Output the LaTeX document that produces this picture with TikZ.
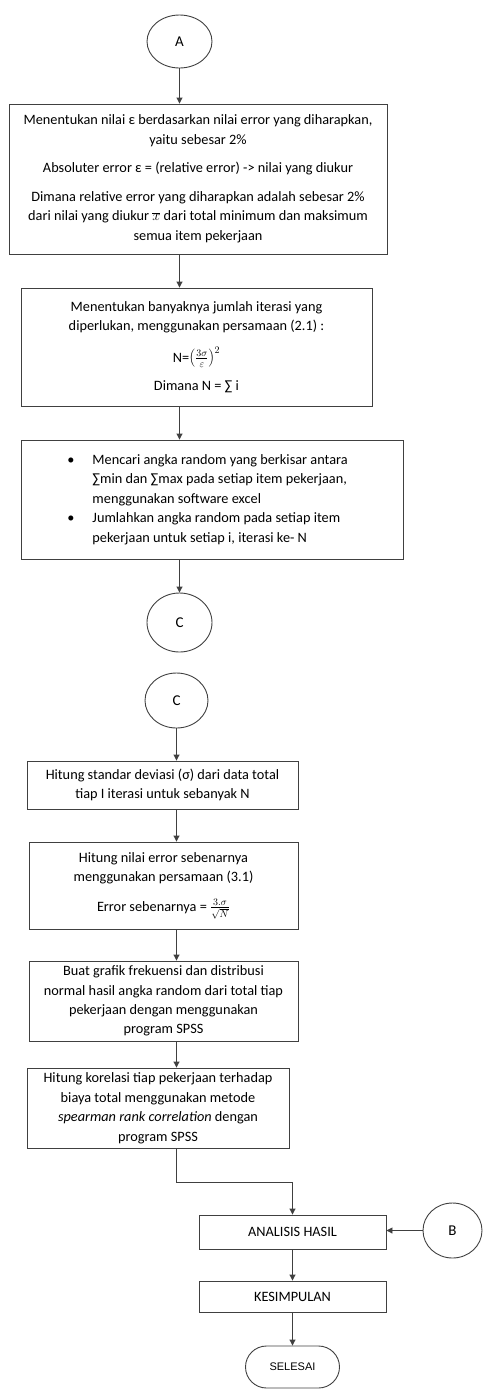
\documentclass[tikz,border=0pt]{standalone}
\usepackage{fontspec}
\setmainfont{Carlito}
\newfontfamily\arialfont{Liberation Sans}
\usetikzlibrary{arrows.meta,shapes.geometric,shapes.misc}
\definecolor{LineClr}{rgb}{0.25,0.25,0.25}

\begin{document}
\begin{tikzpicture}[x=1pt,y=-1pt,
  box/.style={draw=LineClr,line width=0.9pt,inner sep=0pt,align=center,
    font=\fontsize{14.3}{19.5}\selectfont},
  conn/.style={draw=LineClr,line width=0.9pt,ellipse,inner sep=0pt,
    font=\fontsize{15}{17}\selectfont},
  flow/.style={LineClr,line width=0.9pt,-{Triangle[length=6pt,width=6pt]}}]
\useasboundingbox (0,0) rectangle (483,1390);

\node[conn,minimum width=65pt,minimum height=53pt] (A) at (179.5,41.5) {A};

\node[box,minimum width=378pt,minimum height=150pt] (p1) at (198,179)
  {Menentukan nilai ε berdasarkan nilai error yang diharapkan,\\
   yaitu sebesar 2\%\\[9pt]
   Absoluter error ε = (relative error) -> nilai yang diukur\\[9pt]
   Dimana relative error yang diharapkan adalah sebesar 2\%\\
   dari nilai yang diukur $\overline{x}$ dari total minimum dan maksimum\\
   semua item pekerjaan};

\node[box,minimum width=351pt,minimum height=118pt] (p2) at (196.5,347)
  {Menentukan banyaknya jumlah iterasi yang\\
   diperlukan, menggunakan persamaan (2.1) :\\[12pt]
   N=$\left(\frac{3\sigma}{\varepsilon}\right)^{2}$\\[9pt]
   Dimana N = ∑ i};

\node[box,minimum width=382pt,minimum height=119pt] (p3) at (212,499.5)
  {\begin{tabular}{@{}l@{\hspace{18pt}}l@{\hspace{9pt}}}
   \textbullet & Mencari angka random yang berkisar antara\\
               & ∑min dan ∑max pada setiap item pekerjaan,\\
               & menggunakan software excel\\
   \textbullet & Jumlahkan angka random pada setiap item\\
               & pekerjaan untuk setiap i, iterasi ke- N
   \end{tabular}};

\node[conn,minimum width=65pt,minimum height=59pt] (C1) at (179.5,622.5) {C};
\node[conn,minimum width=63pt,minimum height=55pt] (C2) at (176.5,700.5) {C};

\node[box,minimum width=271pt,minimum height=48pt] (p4) at (162.5,785)
  {Hitung standar deviasi (σ) dari data total\\
   tiap I iterasi untuk sebanyak N};

\node[box,minimum width=269pt,minimum height=87pt] (p5) at (163.5,885.5)
  {Hitung nilai error sebenarnya\\
   menggunakan persamaan (3.1)\\[10pt]
   Error sebenarnya = $\frac{3.\sigma}{\sqrt{N}}$};

\node[box,minimum width=269pt,minimum height=80pt] (p6) at (163.5,1001)
  {Buat grafik frekuensi dan distribusi\\
   normal hasil angka random dari total tiap\\
   pekerjaan dengan menggunakan\\
   program SPSS};

\node[box,minimum width=262pt,minimum height=80pt] (p7) at (158,1108)
  {Hitung korelasi tiap pekerjaan terhadap\\
   biaya total menggunakan metode\\
   \textit{spearman rank correlation} dengan\\
   program SPSS};

\node[box,minimum width=187pt,minimum height=34pt] (hasil) at (292.5,1232) {ANALISIS HASIL};
\node[box,minimum width=187pt,minimum height=31pt] (simpul) at (292.5,1296.5) {KESIMPULAN};
\node[draw=LineClr,line width=0.9pt,rounded rectangle,inner sep=0pt,
  minimum width=94pt,minimum height=42pt,font=\arialfont\fontsize{11}{13}\selectfont]
  (selesai) at (292.5,1367) {SELESAI};
\node[conn,minimum width=59pt,minimum height=55pt] (B) at (452.5,1230.5) {B};

\draw[flow] (A.south) -- (A.south |- p1.north);
\draw[flow] (p1.south -| A) -- (p2.north -| A);
\draw[flow] (p2.south -| A) -- (p3.north -| A);
\draw[flow] (p3.south -| C1) -- (C1.north);
\draw[flow] (C2.south) -- (C2.south |- p4.north);
\draw[flow] (p4.south -| C2) -- (p5.north -| C2);
\draw[flow] (p5.south -| C2) -- (p6.north -| C2);
\draw[flow] (p6.south -| C2) -- (p7.north -| C2);
\draw[flow] (p7.south -| C2) -- ++(0,34) -| (hasil.north);
\draw[flow] (B.west) -- (B.west -| hasil.east);
\draw[flow] (hasil.south) -- (simpul.north);
\draw[flow] (simpul.south) -- (selesai.north);
\end{tikzpicture}
\end{document}
